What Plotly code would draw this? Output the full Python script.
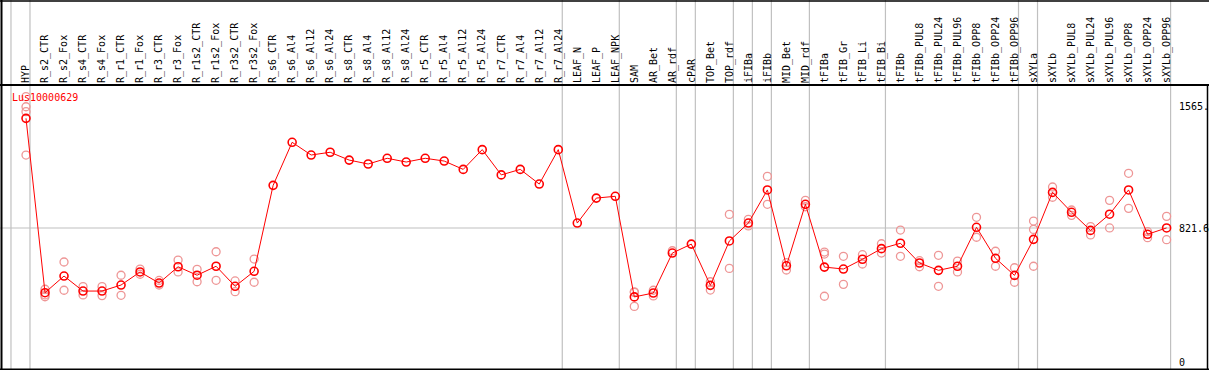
import plotly.graph_objects as go

categories = ["HYP", "R_s2_CTR", "R_s2_Fox", "R_s4_CTR", "R_s4_Fox", "R_r1_CTR", "R_r1_Fox",
              "R_r3_CTR", "R_r3_Fox", "R_r1s2_CTR", "R_r1s2_Fox", "R_r3s2_CTR", "R_r3s2_Fox",
              "R_s6_CTR", "R_s6_Al4", "R_s6_Al12", "R_s6_Al24", "R_s8_CTR", "R_s8_Al4", "R_s8_Al12",
              "R_s8_Al24", "R_r5_CTR", "R_r5_Al4", "R_r5_Al12", "R_r5_Al24", "R_r7_CTR", "R_r7_Al4",
              "R_r7_Al12", "R_r7_Al24", "LEAF_N", "LEAF_P", "LEAF_NPK", "SAM", "AR_Bet", "AR_rdf",
              "cPAR", "TOP_Bet", "TOP_rdf", "iFIBa", "iFIBb", "MID_Bet", "MID_rdf", "tFIBa",
              "tFIB_Gr", "tFIB_Li", "tFIB_Bi", "tFIBb", "tFIBb_PUL8", "tFIBb_PUL24", "tFIBb_PUL96",
              "tFIBb_OPP8", "tFIBb_OPP24", "tFIBb_OPP96", "sXYLa", "sXYLb", "sXYLb_PUL8",
              "sXYLb_PUL24", "sXYLb_PUL96", "sXYLb_OPP8", "sXYLb_OPP24", "sXYLb_OPP96"]

mean_values = [1494, 425, 527, 435, 435, 472, 552, 484, 584, 532, 587, 464, 556,
               1083, 1347, 1269, 1286, 1238, 1214, 1249, 1226, 1249, 1232, 1181, 1302,
               1147, 1181, 1091, 1302, 852, 1005, 1016, 399, 423, 668, 723, 470, 742,
               852, 1055, 590, 967, 582, 570, 630, 695, 728, 607, 562, 587, 826, 636,
               531, 752, 1040, 918, 807, 906, 1055, 783, 822]

replicates = [
    [1627, 1565, 1535, 1269],  # HYP
    [446, 411, 400], [613, 440], [462, 411], [462, 407], [532, 409], [570, 538],
    [500, 472], [625, 552], [568, 492], [676, 501], [497, 431], [631, 489],
    [], [], [], [], [], [], [], [], [], [], [], [], [], [], [], [],
    [], [], [],
    [427, 341, 430], [440, 405], [682], [], [492, 441], [905, 574],
    [875, 834], [1138, 967], [609, 564], [991, 952], [674, 662, 403],
    [648, 476], [658, 601], [725, 668], [809, 648], [621, 584], [654, 464],
    [619, 552], [887, 765], [679, 587], [578, 489], [864, 813, 587],
    [1073, 1010], [932, 899], [830, 779], [991, 822], [1157, 942], [799, 762],
    [893, 750],
]

# index of the last category of each group (vertical separators)
group_ends = [-1, 0, 28, 31, 34, 35, 37, 38, 39, 41, 45, 52, 53, 60]

axis_labels = [1565, 821.6, 0]

idx = list(range(len(categories)))
rep_x, rep_y = [], []
for i, reps in enumerate(replicates):
    for v in reps:
        rep_x.append(i)
        rep_y.append(v)

W, H = 1209, 370
FONT = "DejaVu Sans Mono"

fig = go.Figure()
fig.add_trace(go.Scatter(
    x=rep_x, y=rep_y, mode="markers",
    marker=dict(symbol="circle-open", size=8, color="rgb(238,150,150)", line=dict(width=1.3)),
    hoverinfo="skip", showlegend=False, cliponaxis=False))
fig.add_trace(go.Scatter(
    x=idx, y=mean_values, mode="lines+markers",
    line=dict(color="red", width=1),
    marker=dict(symbol="circle-open", size=8, color="red", line=dict(width=1.6)),
    showlegend=False))

# pixel mapping: category i at 26 + 19.01*i ; value v at 362 - 0.1631*v
px_per_cat = 19.01
x0_px = 26
x_range = [(0 - x0_px) / px_per_cat, (W - x0_px) / px_per_cat]
k = 0.1631
top_px = 85
y_range = [(362 - H) / k, (362 - top_px) / k]

shapes = []
for g in group_ends:
    shapes.append(dict(type="line", xref="x", yref="paper", x0=g + 0.21, x1=g + 0.21,
                       y0=0, y1=1, line=dict(color="#c0c0c0", width=1.2), layer="below"))
shapes.append(dict(type="line", xref="paper", yref="y", x0=0, x1=1170.5 / W,
                   y0=821.6, y1=821.6, line=dict(color="#c0c0c0", width=1.2), layer="below"))
# borders
shapes.append(dict(type="line", xref="paper", yref="paper", x0=0, x1=1, y0=1 - 1 / H, y1=1 - 1 / H,
                   line=dict(color="black", width=1.5)))
shapes.append(dict(type="line", xref="paper", yref="paper", x0=0, x1=1,
                   y0=1 - top_px / H, y1=1 - top_px / H, line=dict(color="black", width=2)))
shapes.append(dict(type="line", xref="paper", yref="paper", x0=1.5 / W, x1=1.5 / W, y0=0, y1=1,
                   line=dict(color="black", width=2)))
shapes.append(dict(type="line", xref="paper", yref="paper", x0=0, x1=1, y0=0.5 / H, y1=0.5 / H,
                   line=dict(color="black", width=2)))
shapes.append(dict(type="line", xref="paper", yref="paper", x0=1207.5 / W, x1=1207.5 / W,
                   y0=0, y1=1 - top_px / H, line=dict(color="black", width=1.5)))

annotations = [dict(xref="paper", yref="paper", x=10 / W, y=1 - 97 / H, xanchor="left",
                    yanchor="middle", text="Lus10000629", showarrow=False,
                    font=dict(family=FONT, size=10, color="red"))]
for v in axis_labels:
    annotations.append(dict(xref="paper", yref="y", x=1177 / W, y=v, xanchor="left",
                            yanchor="middle", text=f"{v:g}." if v == 1565 else f"{v:g}",
                            showarrow=False, font=dict(family=FONT, size=10, color="black")))

fig.update_layout(
    width=W, height=H, margin=dict(l=0, r=0, t=0, b=0, autoexpand=False),
    paper_bgcolor="white", plot_bgcolor="white",
    xaxis=dict(range=x_range, side="top", tickmode="array", tickvals=idx, ticktext=categories,
               tickangle=-90, showgrid=False, zeroline=False, showline=False, ticks="",
               automargin=False, ticklabelstandoff=1, ticklabelshift=0,
               tickfont=dict(family=FONT, size=10, color="black")),
    yaxis=dict(range=y_range, domain=[0, 1 - top_px / H], showgrid=False, zeroline=False,
               showticklabels=False, showline=False, automargin=False),
    shapes=shapes, annotations=annotations,
)

fig.write_html("out.html", config={"displayModeBar": False},
               post_script="document.body.style.margin='0';document.body.style.overflow='hidden';")
